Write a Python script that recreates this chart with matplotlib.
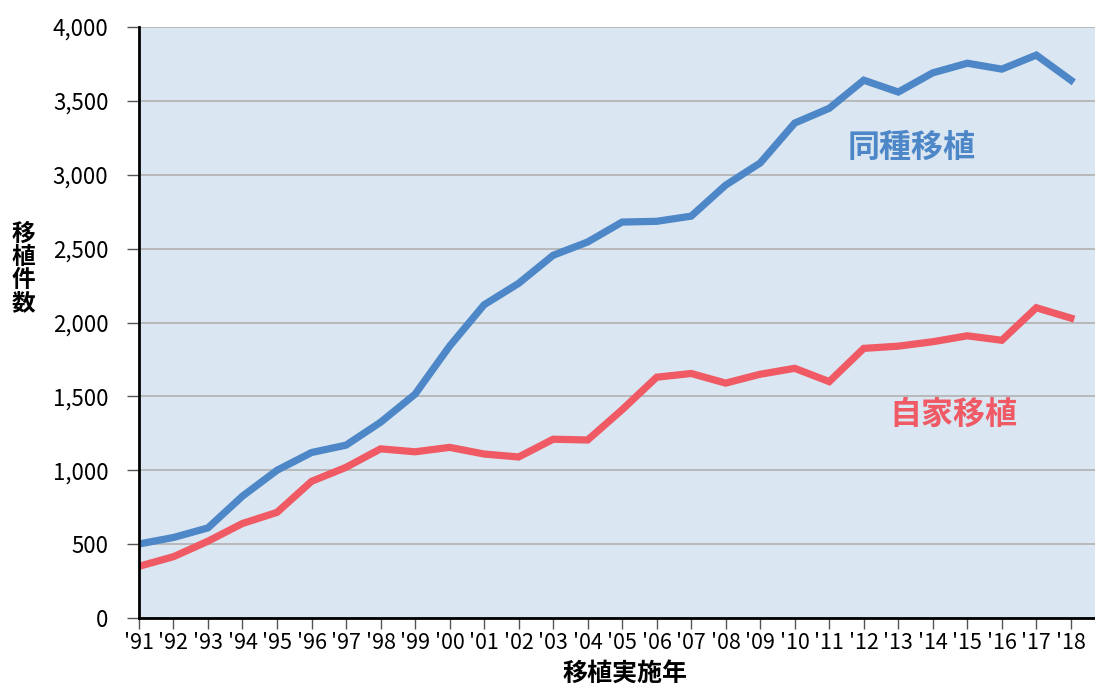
import matplotlib
matplotlib.use("Agg")
import matplotlib.pyplot as plt
from matplotlib.ticker import FuncFormatter

plt.rcParams['font.family'] = ['Noto Sans CJK JP', 'DejaVu Sans']

years = ["'91", "'92", "'93", "'94", "'95", "'96", "'97", "'98", "'99", "'00",
         "'01", "'02", "'03", "'04", "'05", "'06", "'07", "'08", "'09", "'10",
         "'11", "'12", "'13", "'14", "'15", "'16", "'17", "'18"]
allo = [501, 545, 610, 825, 1000, 1120, 1170, 1325, 1515, 1840,
        2120, 2265, 2455, 2545, 2680, 2685, 2720, 2930, 3080, 3350,
        3450, 3640, 3560, 3690, 3755, 3715, 3810, 3640]
auto = [350, 415, 520, 640, 715, 925, 1020, 1145, 1125, 1155,
        1110, 1090, 1210, 1205, 1410, 1630, 1655, 1590, 1650, 1690,
        1600, 1825, 1840, 1870, 1910, 1880, 2100, 2030]

blue = '#4d87c7'
red = '#ef5a64'

fig = plt.figure(figsize=(10.95, 6.86), dpi=100)
ax = fig.add_axes([0.1269, 0.0991, 0.8731, 0.8615])
ax.set_facecolor('#dae6f1')

x = range(len(years))
ax.plot(x, allo, color=blue, lw=5.2, solid_joinstyle='miter')
ax.plot(x, auto, color=red, lw=5.2, solid_joinstyle='miter')

ax.set_xlim(0, 27.7)
ax.set_ylim(0, 4000)
ax.set_yticks(range(0, 4001, 500))
ax.yaxis.set_major_formatter(FuncFormatter(lambda v, p: f"{int(v):,}"))
ax.set_xticks(list(x))
ax.set_xticklabels(years)
ax.grid(axis='y', color='#b0b0b0', lw=1.2)
ax.set_axisbelow(True)

for s in ['top', 'right']:
    ax.spines[s].set_visible(False)
ax.spines['left'].set_linewidth(2)
ax.spines['bottom'].set_linewidth(2)
ax.tick_params(axis='y', length=9, width=1, color='#555555', labelsize=16, pad=13)
ax.tick_params(axis='x', length=8, width=1, color='#555555', labelsize=15.5, pad=2)

ax.text(22.4, 3180, '同種移植', color=blue, fontsize=23, fontweight='bold',
        ha='center', va='center')
ax.text(23.6, 1375, '自家移植', color=red, fontsize=23, fontweight='bold',
        ha='center', va='center')

fig.text(0.021, 0.608, '移\n植\n件\n数', fontsize=17, fontweight='bold',
         ha='center', va='center', linespacing=0.95)
fig.text(0.571, 0.018, '移植実施年', fontsize=18, fontweight='bold',
         ha='center', va='center')

fig.savefig('out.png', dpi=100)
